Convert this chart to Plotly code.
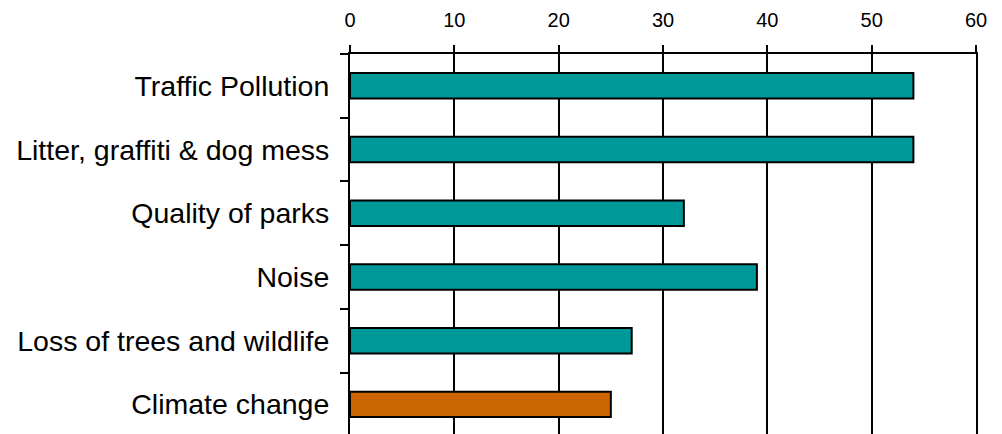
import plotly.graph_objects as go

categories = ["Traffic Pollution", "Litter, graffiti & dog mess", "Quality of parks",
              "Noise", "Loss of trees and wildlife", "Climate change"]
values = [54, 54, 32, 39, 27, 25]
bar_colors = ["#009999", "#009999", "#009999", "#009999", "#009999", "#CC6600"]
x_ticks = [0, 10, 20, 30, 40, 50, 60]

fig = go.Figure(go.Bar(
    y=categories, x=values, orientation="h",
    marker=dict(color=bar_colors, line=dict(color="black", width=2)),
    width=0.4,
))

fig.update_layout(
    width=1002, height=434,
    margin=dict(l=350, r=26, t=54, b=0),
    paper_bgcolor="white", plot_bgcolor="white",
    showlegend=False,
    font=dict(family="Liberation Sans, Arial, sans-serif", color="black"),
)
fig.update_xaxes(
    side="top", range=[0, 60], tickvals=x_ticks, ticktext=[str(v) for v in x_ticks],
    ticks="outside", ticklen=7, tickwidth=2, tickcolor="black",
    showline=True, linewidth=2, linecolor="black",
    showgrid=True, gridcolor="black", gridwidth=2, zeroline=False,
    tickfont=dict(size=20), ticklabelstandoff=10,
)
fig.update_yaxes(
    type="category", categoryorder="array", categoryarray=categories,
    range=[5.465, -0.5],
    ticks="outside", tickson="boundaries", ticklen=8, tickwidth=2, tickcolor="black",
    showline=True, linewidth=2, linecolor="black", mirror=True,
    showgrid=False, zeroline=False,
    tickfont=dict(size=28.5), ticklabelstandoff=13,
)

fig.write_html("out.html", config={"displayModeBar": False},
               post_script="document.body.style.margin='0';document.body.style.overflow='hidden';")
